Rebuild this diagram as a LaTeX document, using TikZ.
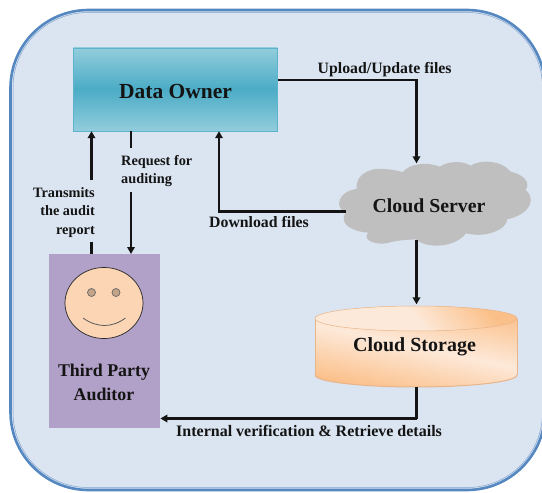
\documentclass[tikz,border=0pt]{standalone}
\usepackage{fontspec}
\setmainfont{Liberation Serif}
\usetikzlibrary{arrows.meta}
\definecolor{panelfill}{HTML}{DBE5F1}
\definecolor{panelline}{HTML}{5587C0}
\definecolor{panelthin}{HTML}{7FA3CF}
\definecolor{ownerlight}{HTML}{92CDDC}
\definecolor{ownermid}{HTML}{4BACC6}
\definecolor{ownerline}{HTML}{5DB3CB}
\definecolor{cloudgrey}{HTML}{BFBFBF}
\definecolor{auditorfill}{HTML}{B1A0C7}
\definecolor{facefill}{HTML}{FCD5B5}
\definecolor{eyefill}{HTML}{C4A488}
\definecolor{storelight}{HTML}{FDE9D9}
\definecolor{storeorange}{HTML}{FBC08A}
\definecolor{storeline}{HTML}{E8B48A}
\definecolor{ink}{HTML}{141414}
\tikzset{
  x=1pt,y=-1pt,
  flow/.style={draw=ink,line width=2.3pt},
  flowarrow/.style={flow,-{Triangle[length=7pt,width=7.5pt]}},
  bigbold/.style={font=\fontsize{#1}{#1}\selectfont\bfseries,text=ink,inner sep=0pt},
  smalllabel/.style={font=\fontsize{14.3}{18.2}\selectfont\bfseries,text=ink,inner sep=0pt,align=#1},
  widelabel/.style={font=\fontsize{15.8}{18}\selectfont\bfseries,text=ink,inner sep=0pt,anchor=west},
}
\begin{document}
\begin{tikzpicture}
\useasboundingbox (0,0) rectangle (542,493);
\clip (0,0) rectangle (542,493);
\fill[white] (0,0) rectangle (542,493);
% panel
\draw[panelline,line width=2.6pt,fill=panelfill,rounded corners=78pt] (10.5,10) rectangle (545,490);
\draw[panelthin,line width=0.5pt,rounded corners=75pt] (13,12.5) rectangle (542.5,487.5);
% data owner
\fill[black!80] (75,129) rectangle (277,131.5);
\node[draw=ownerline,line width=0.7pt,top color=ownerlight,bottom color=ownerlight,middle color=ownermid,
  minimum width=204pt,minimum height=83pt,inner sep=0pt,anchor=north west] (owner) at (73,47.5) {};
\node[bigbold=21.5] (ownertext) at (175.5,91) {Data Owner};
% cloud server
\begin{scope}[x=0.3333pt,y=-0.3333pt,shift={(840,390)}]
\fill[cloudgrey] (230,177)
  .. controls (225,135) and (270,112) .. (310,117)
  .. controls (335,118) and (355,122) .. (368,127)
  .. controls (385,105) and (430,92) .. (480,110)
  .. controls (500,95) and (545,90) .. (572,107)
  .. controls (600,88) and (665,90) .. (692,125)
  .. controls (725,132) and (755,155) .. (737,180)
  .. controls (765,200) and (760,250) .. (682,268)
  .. controls (680,300) and (615,325) .. (558,310)
  .. controls (530,350) and (445,360) .. (408,328)
  .. controls (370,330) and (345,332) .. (320,340)
  .. controls (285,345) and (245,330) .. (265,308)
  .. controls (215,305) and (175,280) .. (197,248)
  .. controls (165,235) and (170,185) .. (230,177) -- cycle;
\end{scope}
\node[bigbold=19.8,minimum width=170pt,minimum height=83pt] (server) at (429,206) {Cloud Server};
% cloud storage
\path[left color=storeorange,right color=storeorange,middle color=storelight,shading angle=-12]
  (315,318.5) -- (315,375) arc[start angle=180,end angle=360,x radius=101pt,y radius=12pt] -- (517,318.5)
  arc[start angle=0,end angle=180,x radius=101pt,y radius=12.5pt] -- cycle;
\path[left color=storeorange,right color=storelight,middle color=storelight,shading angle=-50]
  (416,318.5) ellipse[x radius=101pt,y radius=12.5pt];
\draw[storeline,line width=0.5pt] (416,318.5) ellipse[x radius=101pt,y radius=12.5pt];
\draw[storeline,line width=1pt] (315,375) arc[start angle=180,end angle=360,x radius=101pt,y radius=12pt];
\draw[storeline,line width=0.4pt] (315,318.5) -- (315,375) (517,318.5) -- (517,375);
\node[minimum width=202pt,minimum height=81pt,inner sep=0pt] (storage) at (416,346) {};
\node[bigbold=20] (storagetext) at (414.5,346.5) {Cloud Storage};
% auditor
\node[fill=auditorfill,minimum width=111pt,minimum height=174pt,inner sep=0pt,anchor=north west] (auditor) at (49,254) {};
\draw[black!85,line width=0.7pt,fill=facefill] (104,303) ellipse[x radius=39pt,y radius=35.5pt];
\draw[black!60,line width=0.7pt,fill=eyefill] (91.5,292.5) circle[radius=4pt];
\draw[black!60,line width=0.7pt,fill=eyefill] (116,292.5) circle[radius=4pt];
\draw[black!65,line width=0.8pt] (83,318) .. controls (97,328) and (112,328) .. (125.5,318);
\node[inner sep=0pt,text=ink,align=center,font=\fontsize{17.9}{24.5}\selectfont\bfseries] (auditortext) at (104,382.5) {Third Party\\Auditor};
% labels
\node[smalllabel=right,anchor=east] (transmits) at (95,212.5) {Transmits\\the audit\\report};
\node[smalllabel=left,anchor=west] (request) at (121,171) {Request for\\auditing};
\node[widelabel] (download) at (209,222.5) {Download files};
\node[widelabel] (upload) at (317.5,70) {Upload/Update files};
\node[widelabel,font=\fontsize{16}{18}\selectfont\bfseries] (internal) at (176,430.5) {Internal verification \& Retrieve details};
% connectors
\coordinate (colA) at (416.5,0);
\coordinate (upA) at ([yshift=9.5pt]owner.east);
\draw[flowarrow] (upA) -| ([yshift=1pt]colA |- server.north);
\draw[flowarrow] ([yshift=8pt]colA |- server.south) -- ([yshift=1pt]colA |- storage.north);
\draw[flow] (colA |- storage.south) -- (416.5,418.5) coordinate (inbend);
\draw[flowarrow] (inbend) -- (auditor.east |- inbend);
\coordinate (dlstart) at (346,211.5);
\coordinate (colD) at (219,0);
\draw[flowarrow] (dlstart) -| (colD |- owner.south);
\coordinate (trTop) at (91.5,180);
\coordinate (trBot) at (91.5,241.5);
\draw[flowarrow] (trTop) -- (owner.south -| trTop);
\draw[flow] (trBot) -- (auditor.north -| trBot);
\coordinate (rqTop) at (131,148);
\coordinate (rqBot) at (131,192);
\draw[flow] (owner.south -| rqTop) -- (rqTop);
\draw[flowarrow] (rqBot) -- (auditor.north -| rqBot);
\end{tikzpicture}
\end{document}
